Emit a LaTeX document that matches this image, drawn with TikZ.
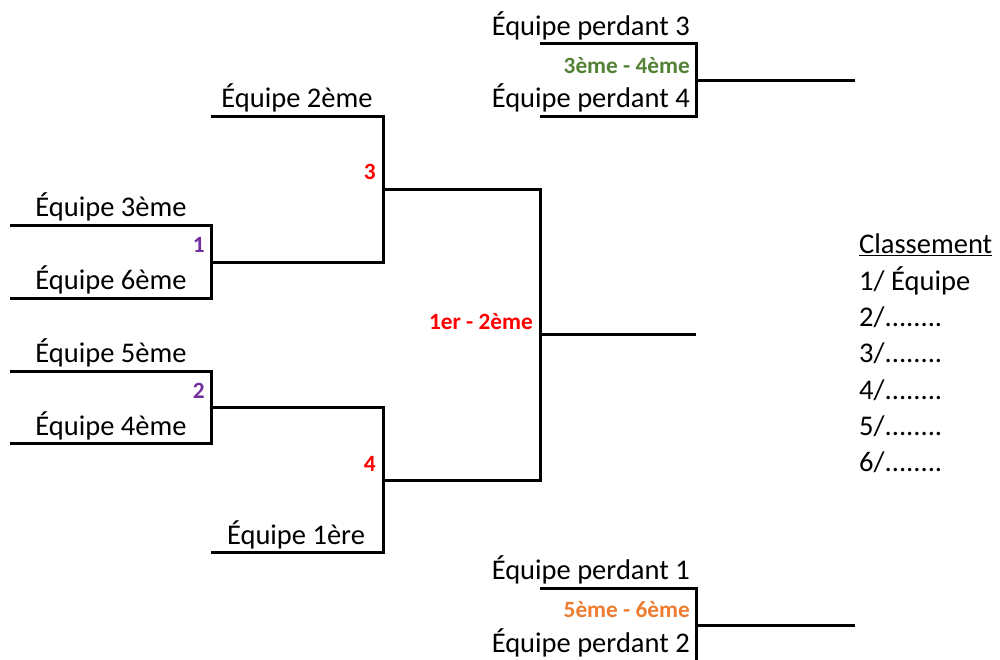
\documentclass[tikz,border=0pt]{standalone}
\usepackage{fontspec}
\setmainfont{Carlito}
\usetikzlibrary{positioning,calc}

\definecolor{roundone}{HTML}{7030A0}
\definecolor{finalred}{HTML}{FF0000}
\definecolor{smallgreen}{HTML}{548235}
\definecolor{smallorange}{HTML}{ED7D31}

\begin{document}
\begin{tikzpicture}
    [
    x=1pt, y=-1pt,
    bracket/.style={
      line width=3pt, line join=miter
      },
    team/.style={
      font=\fontsize{28.5}{30}\selectfont,
      inner sep=0pt
      },
    matchlabel/.style={
      font=\fontsize{23.3}{25}\selectfont\bfseries,
      inner sep=0pt, anchor=base east
    }
    ]
    \useasboundingbox (0,0) rectangle (1000,660);

    % First round: two brackets on the left
    \foreach \name/\top/\bot in {m1/226/298, m2/371/443} {
      \draw[bracket] (10,\top) -- (211,\top) -- (211,\bot) -- (10,\bot);
      \coordinate (\name) at (211,{(\top+\bot)/2});
    }
    \node[team, anchor=base] (t3) at (111,217) {Équipe 3ème};
    \node[team, anchor=base] (t6) at (111,289) {Équipe 6ème};
    \node[team, anchor=base] (t5) at (111,362) {Équipe 5ème};
    \node[team, anchor=base] (t4) at (111,435) {Équipe 4ème};
    \node[matchlabel, text=roundone] (l1) at (205,252) {1};
    \node[matchlabel, text=roundone] (l2) at (205,398) {2};

    % Second round
    \coordinate (m3) at (383,189.5);
    \coordinate (m4) at (383,480);
    \draw[bracket] (211,117) -- (383,117) |- (m1);
    \draw[bracket] (211,552) -- (383,552) |- (m2);
    \node[team, anchor=base] (t2) at (297,108) {Équipe 2ème};
    \node[team, anchor=base] (t1) at (296,544) {Équipe 1ère};
    \node[matchlabel, text=finalred] (l3) at (376,180) {3};
    \node[matchlabel, text=finalred] (l4) at (376,471) {4};

    % Final
    \coordinate (fin) at (540,334.5);
    \draw[bracket] (m3) -- (540,189.5) -- (540,480) -- (m4);
    \draw[bracket] (fin) -- (696,334.5);
    \node[matchlabel, text=finalred] (lfin) at (533,329) {1er - 2ème};

    % Match for 3rd place
    \coordinate (m34) at (696,80.5);
    \draw[bracket] (540,44) -- (696,44) -- (696,117) -- (540,117);
    \draw[bracket] (m34) -- (855,80.5);
    \node[team, anchor=base east] (p3) at (690,36) {Équipe perdant 3};
    \node[team, anchor=base east] (p4) at (690,108) {Équipe perdant 4};
    \node[matchlabel, text=smallgreen] (l34) at (690,74) {3ème - 4ème};

    % Match for 5th place
    \coordinate (m56) at (696,625);
    \draw[bracket] (540,588) -- (696,588) -- (696,662);
    \draw[bracket] (m56) -- (855,625);
    \node[team, anchor=base east] (p1) at (690,579) {Équipe perdant 1};
    \node[team, anchor=base east] (p2) at (690,652) {Équipe perdant 2};
    \node[matchlabel, text=smallorange] (l56) at (690,617) {5ème - 6ème};

    % Ranking list
    \node[team, anchor=base west] (rank) at (859,254) {\underline{Classement}};
    \node[team, anchor=base west] (r1) at (859,290) {1/ Équipe};
    \foreach \i/\y in {2/326, 3/362, 4/399, 5/435, 6/471} {
      \node[team, anchor=base west] (r\i) at (859,\y) {\i/........};
    }
\end{tikzpicture}
\end{document}
